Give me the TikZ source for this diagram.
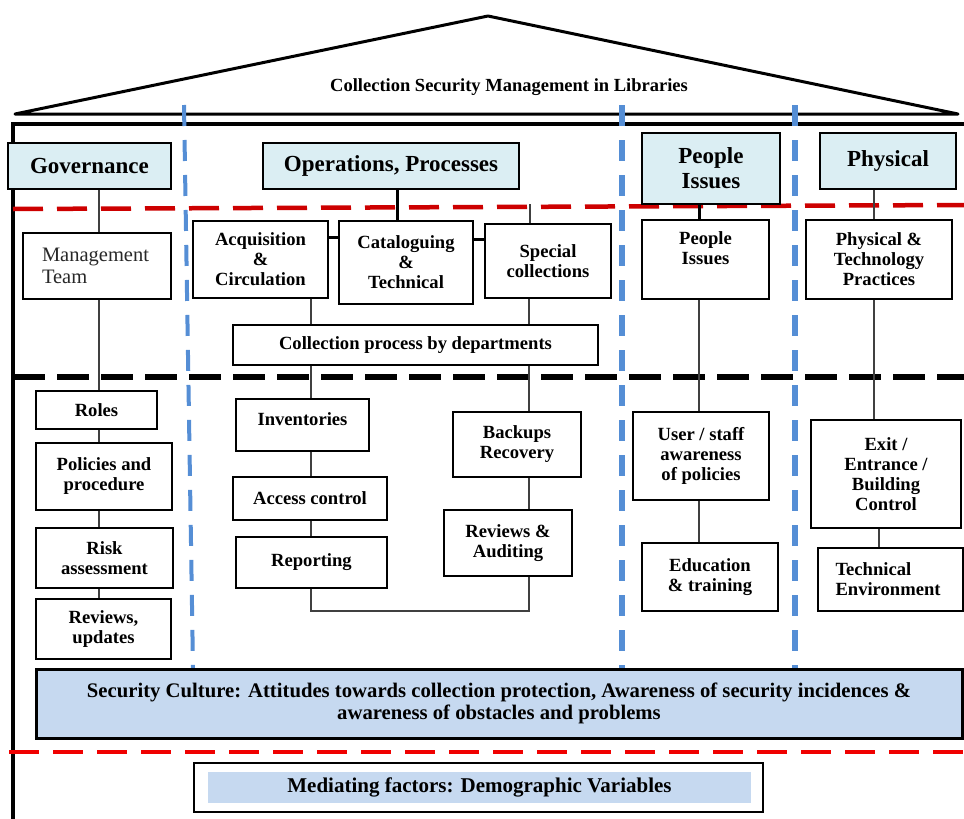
\documentclass[tikz,border=0pt]{standalone}
\usepackage{fontspec}
\setmainfont{Liberation Serif}
\definecolor{hdrblue}{RGB}{219,238,243}
\definecolor{secblue}{RGB}{198,217,240}
\definecolor{dblue}{RGB}{85,142,213}
\definecolor{redA}{RGB}{205,0,0}
\definecolor{redB}{RGB}{240,0,0}
\definecolor{mgray}{RGB}{40,40,40}
\begin{document}
\begin{tikzpicture}[x=1pt,y=-1pt,
  hdr/.style={draw, line width=1.4pt, fill=hdrblue, inner sep=0pt, align=center, font=\bfseries\fontsize{23}{25}\selectfont},
  sub/.style={draw, line width=1.2pt, fill=white, inner sep=0pt, align=center, font=\bfseries\fontsize{18.6}{20}\selectfont},
  conn/.style={line width=1.3pt, draw=black!75},
  tconn/.style={line width=3pt, draw=black},
  bdash/.style={line width=5.5pt, draw=dblue, dash pattern=on 21pt off 14pt},
  rdash/.style={line width=4.5pt, dash pattern=on 30pt off 14pt},
  kdash/.style={line width=5.5pt, draw=black, dash pattern=on 32pt off 12pt},
]
\useasboundingbox (0,0) rectangle (964,819);

% roof and walls
\draw[line width=3pt, line join=round] (15,114) -- (488,16) -- (958,114) -- cycle;
\node[font=\bfseries\fontsize{18.5}{20}\selectfont] (title) at (509,87) {Collection Security Management in Libraries};
\draw[line width=4pt] (13,819) -- (13,124) -- (964,124);

% dashed separators
\draw[bdash, line width=4pt] (184,105) -- (193,668);
\draw[bdash] (622,105) -- (622,668);
\draw[bdash] (795,105) -- (795,668);
\draw[rdash, draw=redA] (13,209) -- (964,205);
\draw[kdash] (13,377) -- (964,377);
\draw[rdash, draw=redB] (9,752) -- (964,752);

% header boxes
\node[hdr, minimum width=163, minimum height=46] (gov) at (89.5,166) {Governance};
\node[hdr, minimum width=256, minimum height=46] (ops) at (391,166) {Operations, Processes};
\node[hdr, minimum width=138, minimum height=71] (peo) at (711,168.5) {People\\Issues};
\node[hdr, minimum width=136, minimum height=56] (phy) at (888,161) {Physical};

% governance column
\node[sub, minimum width=148, minimum height=66, text width=110, align=left, font=\fontsize{20.5}{22}\selectfont, text=mgray] (mgmt) at (97,266) {Management\\Team};
\node[sub, minimum width=121, minimum height=38] (roles) at (96.5,410) {Roles};
\node[sub, minimum width=136, minimum height=67] (pol) at (104,476.5) {Policies and\\procedure};
\node[sub, minimum width=137, minimum height=60] (risk) at (104.5,558) {Risk\\assessment};
\node[sub, minimum width=135, minimum height=60] (revu) at (103.5,629) {Reviews,\\updates};

% operations column
\node[sub, minimum width=135, minimum height=77] (acq) at (260.5,259.5) {Acquisition\\\&\\Circulation};
\node[sub, minimum width=134, minimum height=83] (cat) at (406,262.5) {Cataloguing\\\&\\Technical};
\node[sub, minimum width=126, minimum height=74] (spec) at (548,261) {Special\\collections};
\node[sub, minimum width=365, minimum height=40] (coll) at (415.5,345) {Collection process by departments};
\node[sub, minimum width=133, minimum height=52, text height=6, text depth=6] (inv) at (302.5,425) {Inventories};
\node[sub, minimum width=154, minimum height=43] (acc) at (310,498.5) {Access control};
\node[sub, minimum width=151, minimum height=51] (rep) at (311.5,562.5) {Reporting};
\node[sub, minimum width=128, minimum height=65] (back) at (517,444.5) {Backups\\Recovery};
\node[sub, minimum width=128, minimum height=66] (reva) at (508,543) {Reviews \&\\Auditing};

% people column
\node[sub, minimum width=127, minimum height=79, text depth=22] (peos) at (705.5,259.5) {People\\Issues};
\node[sub, minimum width=136, minimum height=88] (user) at (701,456) {User / staff\\awareness\\of policies};
\node[sub, minimum width=136, minimum height=68] (edu) at (710,577) {Education\\\& training};

% physical column
\node[sub, minimum width=146, minimum height=79] (phys) at (879,259.5) {Physical \&\\Technology\\Practices};
\node[sub, minimum width=150, minimum height=108] (exit) at (886,474) {Exit /\\Entrance /\\Building\\Control};
\node[sub, minimum width=145, minimum height=63, text width=110, align=left] (tech) at (890.5,579.5) {Technical\\Environment};

% column x coordinates
\coordinate (xg) at (99,0);
\coordinate (xo) at (397,0);
\coordinate (xa) at (311,0);
\coordinate (xb) at (529,0);
\coordinate (xp) at (699,0);
\coordinate (xf) at (874,0);
\coordinate (xe) at (879,0);
\coordinate (ybot) at (0,611);
\coordinate (stub) at (530,204);

% governance connectors
\draw[conn] (gov.south -| xg) -- (mgmt.north -| xg);
\draw[conn] (mgmt.south -| xg) -- (roles.north -| xg);
\draw[conn] (roles.south -| xg) -- (pol.north -| xg);
\draw[conn] (pol.south -| xg) -- (risk.north -| xg);
\draw[conn] (risk.south -| xg) -- (revu.north -| xg);

% operations connectors
\draw[tconn] (ops.south -| xo) -- (cat.north -| xo);
\draw[tconn] (acq.east |- 0,237) -- (cat.west |- 0,237);
\draw[tconn] (cat.east |- 0,239) -- (spec.west |- 0,239);
\draw[conn] (spec.north -| stub) -- (stub);
\draw[conn] (acq.south -| xa) -- (coll.north -| xa);
\draw[conn] (spec.south -| xb) -- (coll.north -| xb);
\draw[conn] (coll.south -| xa) -- (inv.north -| xa);
\draw[conn] (inv.south -| xa) -- (acc.north -| xa);
\draw[conn] (acc.south -| xa) -- (rep.north -| xa);
\draw[conn] (coll.south -| xb) -- (back.north -| xb);
\draw[conn] (back.south -| xb) -- (reva.north -| xb);
\draw[conn] (rep.south -| xa) -- (xa |- ybot) -- (xb |- ybot) -- (reva.south -| xb);

% people connectors
\draw[tconn] (peo.south -| xp) -- (peos.north -| xp);
\draw[conn] (peos.south -| xp) -- (user.north -| xp);
\draw[conn] (user.south -| xp) -- (edu.north -| xp);

% physical connectors
\draw[conn] (phy.south -| xf) -- (phys.north -| xf);
\draw[conn] (phys.south -| xf) -- (exit.north -| xf);
\draw[conn] (exit.south -| xe) -- (tech.north -| xe);

% bottom boxes
\node[draw, line width=3pt, fill=secblue, minimum width=926, minimum height=69, inner sep=0pt, align=center, font=\bfseries\fontsize{20.7}{22}\selectfont] (sec) at (499,703.5) {Security Culture: Attitudes towards collection protection, Awareness of security incidences \&\\awareness of obstacles and problems};
\node[draw, line width=1.5pt, fill=white, minimum width=569, minimum height=49, inner sep=0pt] (medout) at (478.5,787.5) {};
\node[fill=secblue, minimum width=543, minimum height=31, inner sep=0pt, font=\bfseries\fontsize{21}{22}\selectfont] (med) at (479.5,787.5) {Mediating factors: Demographic Variables};
\end{tikzpicture}
\end{document}
